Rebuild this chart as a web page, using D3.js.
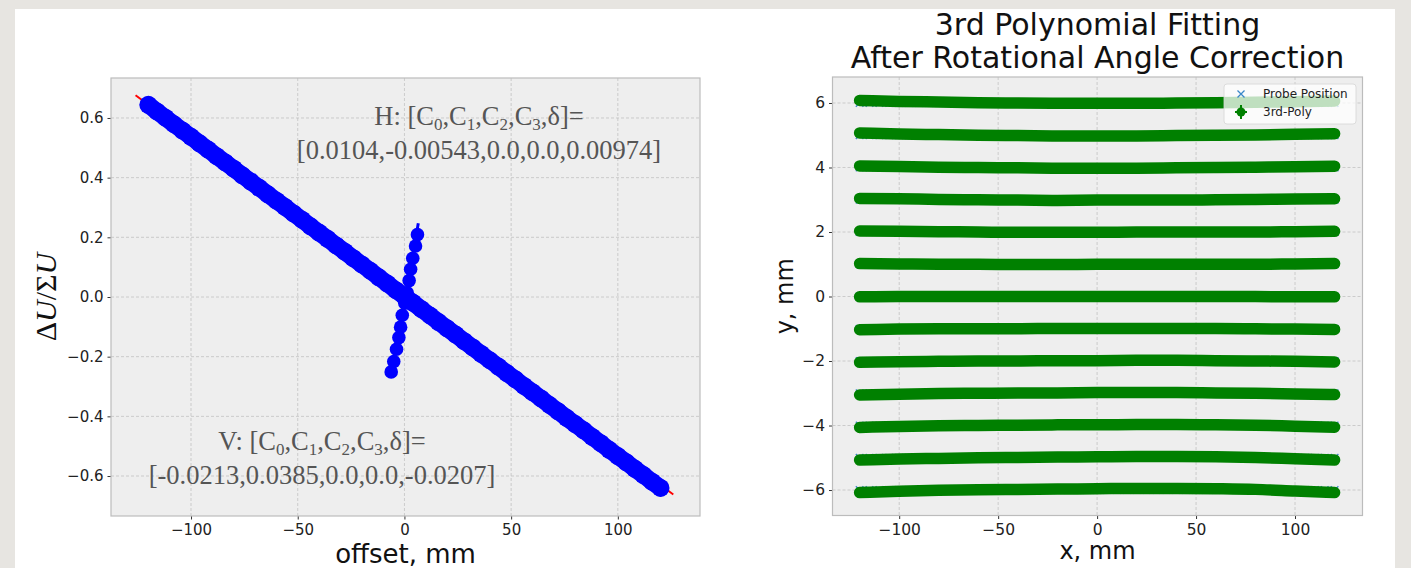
<!DOCTYPE html>
<html>
<head>
<meta charset="utf-8">
<script src="https://cdn.jsdelivr.net/npm/d3@7"></script>
<style>
body { margin: 0; background: #e7e5e1; }
svg { display: block; }
</style>
</head>
<body>
<svg id="fig" width="1411" height="568"></svg>
<script>
// ---- left panel data (delta U / sigma U vs offset) ----
var hOffset = [-120,-116,-112,-108,-104,-100,-96,-92,-88,-84,-80,-76,-72,-68,-64,-60,-56,-52,-48,-44,-40,-36,-32,-28,-24,-20,-16,-12,-8,-4,
               0,4,8,12,16,20,24,28,32,36,40,44,48,52,56,60,64,68,72,76,80,84,88,92,96,100,104,108,112,116,120];
var hRatio = [0.644,0.622,0.601,0.579,0.558,0.537,0.515,0.494,0.472,0.451,0.430,0.408,0.387,0.366,0.344,0.323,0.302,0.280,0.259,0.237,
              0.216,0.195,0.173,0.152,0.130,0.109,0.088,0.066,0.045,0.023,0.002,-0.019,-0.041,-0.062,-0.084,-0.105,-0.126,-0.148,-0.169,-0.191,
              -0.212,-0.233,-0.255,-0.276,-0.298,-0.319,-0.340,-0.362,-0.383,-0.405,-0.426,-0.447,-0.469,-0.490,-0.512,-0.533,-0.554,-0.576,-0.597,-0.619,-0.640];
var hFit = [[-126, 0.676], [126, -0.662]];

var vOffset = [6.1, 5.2, 3.9, 2.9, 2.2, 1.3, 0.2, -1.0, -1.8, -2.6, -3.7, -5.0, -6.2];
var vRatio = [0.209, 0.171, 0.130, 0.093, 0.055, 0.014, -0.021, -0.061, -0.101, -0.136, -0.175, -0.216, -0.251];
var vFit = [[-6.3, -0.255], [6.5, 0.247]];

var hText = ["H: ", "[0.0104,-0.00543,0.0,0.0,0.00974]"];
var vText = ["V: ", "[-0.0213,0.0385,0.0,0.0,-0.0207]"];

var leftXTicks = [-100, -50, 0, 50, 100];
var leftYTicks = [-0.6, -0.4, -0.2, 0.0, 0.2, 0.4, 0.6];

// ---- right panel data (probe position and 3rd-poly fit) ----
var probeLines = [-6,-5,-4,-3,-2,-1,0,1,2,3,4,5,6];
var probeX = [-120,-115,-110,-105,-100,-95,-90,-85,-80,-75,-70,-65,-60,-55,-50,-45,-40,-35,-30,-25,-20,-15,-10,-5,
              0,5,10,15,20,25,30,35,40,45,50,55,60,65,70,75,80,85,90,95,100,105,110,115,120];
var polyX = [-120,-100,-80,-60,-40,-20,0,20,40,60,80,100,120];
var polyY = [
  [-6.08,-6.04,-6.01,-5.99,-5.98,-5.97,-5.96,-5.95,-5.95,-5.96,-5.98,-6.03,-6.08],
  [-5.07,-5.04,-5.02,-5.00,-4.99,-4.98,-4.97,-4.96,-4.96,-4.97,-4.99,-5.03,-5.07],
  [-4.06,-4.03,-4.01,-4.00,-3.99,-3.98,-3.98,-3.97,-3.97,-3.98,-3.99,-4.02,-4.05],
  [-3.05,-3.03,-3.01,-3.00,-2.99,-2.99,-2.98,-2.98,-2.98,-2.99,-3.00,-3.02,-3.04],
  [-2.04,-2.02,-2.01,-2.00,-2.00,-1.99,-1.99,-1.98,-1.98,-1.99,-2.00,-2.01,-2.03],
  [-1.03,-1.01,-1.00,-1.00,-1.00,-0.99,-0.99,-0.99,-0.99,-0.99,-1.00,-1.01,-1.02],
  [-0.01,0.00,0.00,0.00,0.00,0.00,0.00,0.00,0.00,0.00,0.00,-0.01,-0.01],
  [1.02,1.01,1.00,1.00,0.99,0.99,1.00,1.00,1.00,1.00,1.00,1.01,1.02],
  [2.03,2.02,2.01,2.00,1.99,1.99,1.99,2.00,2.00,2.00,2.00,2.01,2.02],
  [3.04,3.03,3.01,3.00,2.99,2.98,2.99,2.99,2.99,3.00,3.01,3.02,3.03],
  [4.05,4.03,4.01,4.00,3.99,3.98,3.98,3.98,3.99,4.00,4.01,4.02,4.04],
  [5.07,5.04,5.02,5.00,4.99,4.98,4.98,4.98,4.99,5.00,5.01,5.03,5.05],
  [6.08,6.05,6.03,6.01,6.00,5.99,5.99,5.99,6.00,6.01,6.02,6.04,6.06]
];
var rightXTicks = [-100, -50, 0, 50, 100];
var rightYTicks = [-6, -4, -2, 0, 2, 4, 6];
var legendLabels = ["Probe Position", "3rd-Poly"];

var svg = d3.select("#fig");
var sans = "'DejaVu Sans', sans-serif";
var serif = "'Liberation Serif', 'DejaVu Serif', serif";

// white sheet on the grey paper
svg.append("rect").attr("x", 15).attr("y", 9).attr("width", 1380).attr("height", 570).attr("fill", "#ffffff");

function panel(box, xDom, yDom, xTicks, yTicks, yFmt, fs){
	var x = d3.scaleLinear().domain(xDom).range([box.l, box.r]);
	var y = d3.scaleLinear().domain(yDom).range([box.b, box.t]);
	var g = svg.append("g");
	g.append("rect")
		.attr("x", box.l).attr("y", box.t)
		.attr("width", box.r - box.l).attr("height", box.b - box.t)
		.attr("fill", "#eeeeee");
	g.selectAll(".gx").data(xTicks).enter().append("line")
		.attr("x1", d => x(d)).attr("x2", d => x(d))
		.attr("y1", box.t).attr("y2", box.b)
		.attr("stroke", "#c2c2c2").attr("stroke-width", 0.8).attr("stroke-dasharray", "3,2");
	g.selectAll(".gy").data(yTicks).enter().append("line")
		.attr("y1", d => y(d)).attr("y2", d => y(d))
		.attr("x1", box.l).attr("x2", box.r)
		.attr("stroke", "#c2c2c2").attr("stroke-width", 0.8).attr("stroke-dasharray", "3,2");

	var ax = g.append("g").attr("transform", "translate(0," + box.b + ")")
		.call(d3.axisBottom(x).tickValues(xTicks).tickSize(3.5).tickPadding(5));
	var ay = g.append("g").attr("transform", "translate(" + box.l + ",0)")
		.call(d3.axisLeft(y).tickValues(yTicks).tickFormat(yFmt).tickSize(3.5).tickPadding(4));
	[ax, ay].forEach(function(a){
		a.select(".domain").remove();
		a.selectAll("line").attr("stroke", "#333");
		a.selectAll("text").attr("fill", "#222").style("font-family", sans).style("font-size", fs + "px");
	});
	return {x: x, y: y, g: g};
}

function frame(box){
	svg.append("rect")
		.attr("x", box.l).attr("y", box.t)
		.attr("width", box.r - box.l).attr("height", box.b - box.t)
		.attr("fill", "none").attr("stroke", "#bcbcbc").attr("stroke-width", 1.2);
}

// ================= left panel =================
var lb = {l: 111, r: 700, t: 78, b: 516};
var L = panel(lb, [-137.5, 138.5], [-0.734, 0.734], leftXTicks, leftYTicks, d3.format(".1f"), 15);
svg.append("clipPath").attr("id", "clipL").append("rect")
	.attr("x", lb.l).attr("y", lb.t).attr("width", lb.r - lb.l).attr("height", lb.b - lb.t);
var lp = svg.append("g").attr("clip-path", "url(#clipL)");

var line = d3.line().x(d => L.x(d[0])).y(d => L.y(d[1]));
lp.append("path").datum(hFit).attr("d", line)
	.attr("stroke", "#ff0000").attr("stroke-width", 2).attr("fill", "none");
lp.append("path").datum(vFit).attr("d", line)
	.attr("stroke", "#0000ff").attr("stroke-width", 3).attr("fill", "none");

// dense H scatter: the markers overlap into one band
var hBand = d3.line().x(d => L.x(d)).y((d, i) => L.y(hRatio[i]));
lp.append("path").datum(hOffset).attr("d", hBand)
	.attr("fill", "none").attr("stroke", "#0000ff")
	.attr("stroke-width", 17).attr("stroke-linecap", "round");
lp.selectAll(".h").data(hOffset).enter().append("circle")
	.attr("cx", d => L.x(d)).attr("cy", (d, i) => L.y(hRatio[i]))
	.attr("r", 9).attr("fill", "#0000ff");
lp.selectAll(".v").data(vOffset).enter().append("circle")
	.attr("cx", d => L.x(d)).attr("cy", (d, i) => L.y(vRatio[i]))
	.attr("r", 6.8).attr("fill", "#0000ff");
frame(lb);

function coefText(cx, cy, t){
	var txt = svg.append("text").attr("x", cx).attr("y", cy)
		.attr("text-anchor", "middle").attr("fill", "#555555")
		.style("font-family", serif).style("font-size", "26.5px");
	txt.append("tspan").text(t[0] + "[C");
	["0", "1", "2", "3"].forEach(function(s, i){
		txt.append("tspan").attr("dy", 5).style("font-size", "17px").text(s);
		txt.append("tspan").attr("dy", -5).text(i < 3 ? ",C" : ",δ]=");
	});
	svg.append("text").attr("x", cx).attr("y", cy + 34)
		.attr("text-anchor", "middle").attr("fill", "#555555")
		.style("font-family", serif).style("font-size", "26.5px")
		.text(t[1]);
}
coefText(479, 125, hText);
coefText(322, 450, vText);

svg.append("text").attr("x", (lb.l + lb.r) / 2).attr("y", 563)
	.attr("text-anchor", "middle").attr("fill", "#111")
	.style("font-family", sans).style("font-size", "26px").text("offset, mm");

var yl = svg.append("text").attr("transform", "translate(56," + ((lb.t + lb.b) / 2) + ") rotate(-90)")
	.attr("text-anchor", "middle").attr("fill", "#111")
	.style("font-family", serif).style("font-size", "30px");
yl.append("tspan").text("Δ");
yl.append("tspan").style("font-style", "italic").text("U");
yl.append("tspan").text("/Σ");
yl.append("tspan").style("font-style", "italic").text("U");

// ================= right panel =================
var rb = {l: 832.5, r: 1362.5, t: 77, b: 515.5};
var R = panel(rb, [-133.7, 134.1], [-6.79, 6.806], rightXTicks, rightYTicks, d3.format("d"), 15.5);
svg.append("clipPath").attr("id", "clipR").append("rect")
	.attr("x", rb.l).attr("y", rb.t).attr("width", rb.r - rb.l).attr("height", rb.b - rb.t);
var rp = svg.append("g").attr("clip-path", "url(#clipR)");

function xMark(sel, s){
	return sel.attr("d", "M" + (-s) + "," + (-s) + "L" + s + "," + s + "M" + (-s) + "," + s + "L" + s + "," + (-s))
		.attr("stroke", "#3a87c8").attr("stroke-width", 1.3).attr("fill", "none");
}
probeLines.forEach(function(py){
	rp.selectAll(null).data(probeX).enter().append("path")
		.attr("transform", d => "translate(" + R.x(d) + "," + R.y(py) + ")")
		.call(xMark, 3.8);
});

var polyLine = d3.line().curve(d3.curveMonotoneX).x((d, i) => R.x(polyX[i])).y(d => R.y(d));
rp.selectAll(".poly").data(polyY).enter().append("path")
	.attr("d", polyLine)
	.attr("fill", "none").attr("stroke", "#008000")
	.attr("stroke-width", 11.5).attr("stroke-linecap", "round").attr("stroke-linejoin", "round");
frame(rb);

// legend
var lg = svg.append("g").attr("transform", "translate(1224,84)");
lg.append("rect").attr("width", 132).attr("height", 40).attr("rx", 3)
	.attr("fill", "#ffffff").attr("fill-opacity", 0.75).attr("stroke", "#d5d5d5").attr("stroke-width", 0.8);
lg.append("path").attr("transform", "translate(17,10)").call(xMark, 3.5);
var mk = lg.append("g").attr("transform", "translate(17,28)");
mk.append("line").attr("x1", -6).attr("x2", 6).attr("stroke", "#008000").attr("stroke-width", 2);
mk.append("line").attr("y1", -7).attr("y2", 7).attr("stroke", "#008000").attr("stroke-width", 2);
mk.append("circle").attr("r", 4.5).attr("fill", "#008000");
lg.selectAll(".lt").data(legendLabels).enter().append("text")
	.attr("x", 39).attr("y", (d, i) => 14 + i * 18)
	.attr("fill", "#222").style("font-family", sans).style("font-size", "12px")
	.text(d => d);

svg.append("text").attr("x", (rb.l + rb.r) / 2).attr("y", 35)
	.attr("text-anchor", "middle").attr("fill", "#111")
	.style("font-family", sans).style("font-size", "30px").text("3rd Polynomial Fitting");
svg.append("text").attr("x", (rb.l + rb.r) / 2).attr("y", 68)
	.attr("text-anchor", "middle").attr("fill", "#111")
	.style("font-family", sans).style("font-size", "30px").text("After Rotational Angle Correction");

svg.append("text").attr("x", (rb.l + rb.r) / 2).attr("y", 559)
	.attr("text-anchor", "middle").attr("fill", "#111")
	.style("font-family", sans).style("font-size", "24px").text("x, mm");
svg.append("text").attr("transform", "translate(793," + ((rb.t + rb.b) / 2) + ") rotate(-90)")
	.attr("text-anchor", "middle").attr("fill", "#111")
	.style("font-family", sans).style("font-size", "24px").text("y, mm");
</script>
</body>
</html>
